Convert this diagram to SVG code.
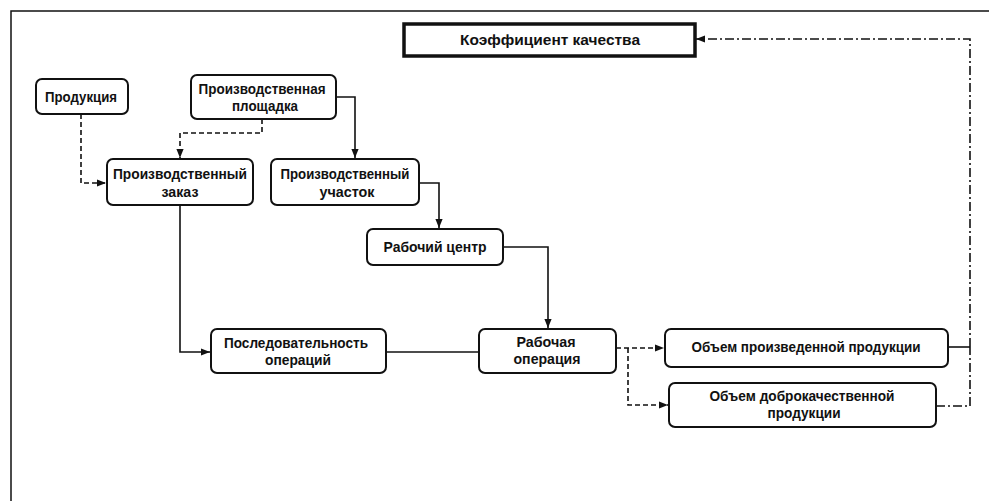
<svg xmlns="http://www.w3.org/2000/svg" width="989" height="501" viewBox="0 0 989 501">
<style>
.node rect{fill:#fff;stroke:#111;stroke-width:2}
.node text{font-family:"Liberation Sans",Arial,sans-serif;font-weight:bold;font-size:14px;fill:#111;text-anchor:middle;dominant-baseline:central}
.c{fill:none;stroke:#111;stroke-width:1.6}
.dash{stroke-dasharray:5,3}
.dd{stroke-dasharray:9,3,2,3}
.frame{fill:none;stroke:#111;stroke-width:1.5}
</style>
<defs>
<marker id="ah" viewBox="0 0 10 10" refX="10" refY="5" markerWidth="9" markerHeight="9" markerUnits="userSpaceOnUse" orient="auto">
<path d="M0,1 L10,5 L0,9 Z" fill="#111"/>
</marker>
</defs>
<rect width="989" height="501" fill="#fff"/>
<path class="frame" d="M11,501 V11 H989"/>

<g id="connectors">
<path class="c dash" d="M81,114 V183 H106" marker-end="url(#ah)"/>
<path class="c dash" d="M262,119 V133 H180 V158" marker-end="url(#ah)"/>
<path class="c" d="M336,97 H355 V158" marker-end="url(#ah)"/>
<path class="c" d="M419,183 H439 V228" marker-end="url(#ah)"/>
<path class="c" d="M180,205 V352 H210" marker-end="url(#ah)"/>
<path class="c" d="M386,352 H479"/>
<path class="c" d="M503,247 H548 V328" marker-end="url(#ah)"/>
<path class="c dash" d="M616,348 H664" marker-end="url(#ah)"/>
<path class="c dash" d="M628,348 V405 H668" marker-end="url(#ah)"/>
<path class="c" d="M948,347 H970"/>
<path class="c dd" d="M970,347 V39 H696" marker-end="url(#ah)"/>
<path class="c dd" d="M936,406 H970 V347"/>
</g>

<g id="n-koef" class="node">
<rect x="404" y="24" width="291" height="32" rx="0" style="stroke-width:3.5"/>
<text x="550" y="40" textLength="180" lengthAdjust="spacingAndGlyphs">Коэффициент качества</text>
</g>
<g id="n-prod" class="node">
<rect x="36" y="79" width="92" height="35" rx="6"/>
<text x="81" y="97" textLength="72" lengthAdjust="spacingAndGlyphs">Продукция</text>
</g>
<g id="n-ploshchadka" class="node">
<rect x="191" y="75" width="145" height="44" rx="6"/>
<text x="262" y="89" textLength="127" lengthAdjust="spacingAndGlyphs">Производственная</text>
<text x="265" y="106" textLength="66" lengthAdjust="spacingAndGlyphs">площадка</text>
</g>
<g id="n-zakaz" class="node">
<rect x="107" y="159" width="146" height="46" rx="6"/>
<text x="180" y="174" textLength="134" lengthAdjust="spacingAndGlyphs">Производственный</text>
<text x="180" y="192" textLength="37" lengthAdjust="spacingAndGlyphs">заказ</text>
</g>
<g id="n-uchastok" class="node">
<rect x="271" y="159" width="148" height="46" rx="6"/>
<text x="345" y="174" textLength="129" lengthAdjust="spacingAndGlyphs">Производственный</text>
<text x="347" y="192" textLength="55" lengthAdjust="spacingAndGlyphs">участок</text>
</g>
<g id="n-centr" class="node">
<rect x="367" y="229" width="136" height="36" rx="6"/>
<text x="435" y="247" textLength="103" lengthAdjust="spacingAndGlyphs">Рабочий центр</text>
</g>
<g id="n-posl" class="node">
<rect x="211" y="329" width="175" height="44" rx="6"/>
<text x="296" y="343" textLength="144" lengthAdjust="spacingAndGlyphs">Последовательность</text>
<text x="298" y="360" textLength="66" lengthAdjust="spacingAndGlyphs">операций</text>
</g>
<g id="n-oper" class="node">
<rect x="479" y="329" width="137" height="44" rx="6"/>
<text x="546" y="342" textLength="59" lengthAdjust="spacingAndGlyphs">Рабочая</text>
<text x="547" y="359" textLength="67" lengthAdjust="spacingAndGlyphs">операция</text>
</g>
<g id="n-obem1" class="node">
<rect x="665" y="329" width="283" height="38" rx="6"/>
<text x="806" y="347" textLength="229" lengthAdjust="spacingAndGlyphs">Объем произведенной продукции</text>
</g>
<g id="n-obem2" class="node">
<rect x="669" y="383" width="267" height="44" rx="6"/>
<text x="802" y="396" textLength="185" lengthAdjust="spacingAndGlyphs">Объем доброкачественной</text>
<text x="804" y="413" textLength="73" lengthAdjust="spacingAndGlyphs">продукции</text>
</g>
</svg>
